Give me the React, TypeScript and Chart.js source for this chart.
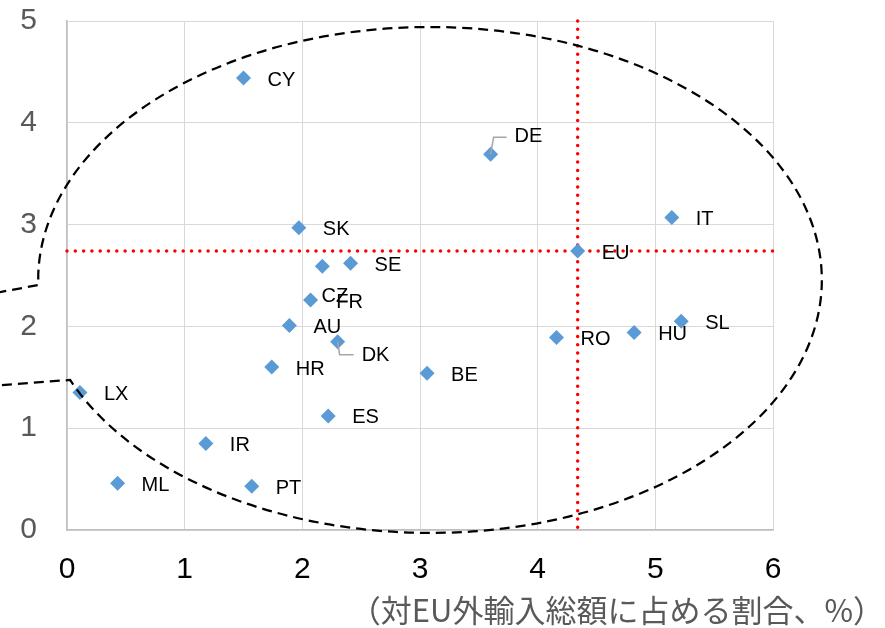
import React, { useEffect, useRef } from "react";
import { Chart, registerables } from "chart.js";

Chart.register(...registerables);

// Country codes and their coordinates
const countries = ["CY", "DE", "IT", "SK", "EU", "SE", "FR", "CZ", "AU", "DK", "HR", "BE", "RO", "HU", "SL", "LX", "IR", "ML", "PT", "ES"];
const xValues = [1.5, 3.6, 5.14, 1.97, 4.34, 2.41, 2.17, 2.07, 1.89, 2.3, 1.74, 3.06, 4.16, 4.82, 5.22, 0.11, 1.18, 0.43, 1.57, 2.22];
const yValues = [4.44, 3.69, 3.07, 2.97, 2.74, 2.62, 2.59, 2.26, 2.01, 1.85, 1.6, 1.54, 1.89, 1.94, 2.05, 1.35, 0.85, 0.46, 0.43, 1.12];

// EU average reference lines
const euAverageX = 4.34;
const euAverageY = 2.74;

const xTicks = [0, 1, 2, 3, 4, 5, 6];
const yTicks = [0, 1, 2, 3, 4, 5];
const xTitle = "（対EU外輸入総額に占める割合、%）";

// Label placement (pixel offsets from each marker)
const labelOffsets: Record<string, [number, number]> = {
  DE: [24, -18],
  CZ: [11, -3],
  FR: [14, 36],
  DK: [24, 14],
};
const defaultOffset: [number, number] = [24, 2];
const leaders: Record<string, [number, number][]> = {
  DE: [[3, -17], [16, -17]],
  DK: [[2, 13], [16, 13]],
};

// Highlight ellipse in data units
const ellipse = { cx: 3.085, cy: 2.456, rx: 3.33, ry: 2.485 };

const overlayPlugin = {
  id: "overlay",
  beforeDatasetsDraw(chart: any) {
    const { ctx, chartArea, scales } = chart;
    const px = scales.x.getPixelForValue(euAverageX);
    const py = scales.y.getPixelForValue(euAverageY);
    ctx.save();
    ctx.strokeStyle = "#FF0000";
    ctx.lineWidth = 3.5;
    ctx.lineCap = "round";
    ctx.setLineDash([0, 8.3]);
    ctx.beginPath();
    ctx.moveTo(px, chartArea.top);
    ctx.lineTo(px, chartArea.bottom + 2);
    ctx.stroke();
    ctx.beginPath();
    ctx.moveTo(chartArea.left, py);
    ctx.lineTo(chartArea.right, py);
    ctx.stroke();
    ctx.restore();
  },
  afterDatasetsDraw(chart: any) {
    const { ctx, scales } = chart;
    const xs = scales.x;
    const ys = scales.y;

    // dashed outline
    const cx = xs.getPixelForValue(ellipse.cx);
    const cy = ys.getPixelForValue(ellipse.cy);
    const rx = xs.getPixelForValue(ellipse.cx + ellipse.rx) - cx;
    const ry = ys.getPixelForValue(ellipse.cy - ellipse.ry) - cy;
    const leftX = xs.getPixelForValue(-0.6);
    const upperY = ys.getPixelForValue(2.33);
    const lowerY = ys.getPixelForValue(1.42);
    const startA = Math.PI - Math.asin(-5 / ry);
    const endA = Math.PI - Math.asin(100 / ry);
    ctx.save();
    ctx.strokeStyle = "#000000";
    ctx.lineWidth = 2.25;
    ctx.setLineDash([10, 6]);
    ctx.beginPath();
    ctx.moveTo(leftX, upperY);
    ctx.lineTo(cx - rx * Math.cos(Math.asin(5 / ry)), cy + 5);
    ctx.ellipse(cx, cy, rx, ry, 0, startA, endA + Math.PI * 2, false);
    ctx.lineTo(leftX, lowerY);
    ctx.stroke();
    ctx.restore();

    // leader lines and labels
    ctx.save();
    countries.forEach((name, i) => {
      const x = xs.getPixelForValue(xValues[i]);
      const y = ys.getPixelForValue(yValues[i]);
      const lead = leaders[name];
      if (lead) {
        ctx.strokeStyle = "#A6A6A6";
        ctx.lineWidth = 1.5;
        ctx.setLineDash([]);
        ctx.beginPath();
        ctx.moveTo(x, y);
        lead.forEach(([dx, dy]) => ctx.lineTo(x + dx, y + dy));
        ctx.stroke();
      }
    });
    ctx.fillStyle = "#000000";
    ctx.font = "20px 'Liberation Sans', Arial, sans-serif";
    ctx.textAlign = "left";
    ctx.textBaseline = "middle";
    countries.forEach((name, i) => {
      const x = xs.getPixelForValue(xValues[i]);
      const y = ys.getPixelForValue(yValues[i]);
      const [dx, dy] = labelOffsets[name] || defaultOffset;
      ctx.fillText(name, x + dx, y + dy);
    });

    // axis title
    ctx.fillStyle = "#595959";
    ctx.font = "31px 'Noto Sans CJK JP', sans-serif";
    ctx.textAlign = "right";
    ctx.textBaseline = "middle";
    ctx.fillText(xTitle, 884, 610);
    ctx.restore();
  },
};

export default function App() {
  const canvasRef = useRef<HTMLCanvasElement | null>(null);

  useEffect(() => {
    document.body.style.margin = "0";
    const canvas = canvasRef.current;
    if (!canvas) return;
    const chart = new Chart(canvas, {
      type: "scatter",
      data: {
        datasets: [
          {
            data: countries.map((_, i) => ({ x: xValues[i], y: yValues[i] })),
            pointStyle: "rectRot",
            pointRadius: 7.5,
            pointHoverRadius: 7.5,
            backgroundColor: "#5B9BD5",
            borderColor: "#5B9BD5",
            borderWidth: 0,
          },
        ],
      },
      options: {
        responsive: false,
        animation: false,
        layout: { padding: { top: 21, right: 112, bottom: 0, left: 0 } },
        plugins: {
          legend: { display: false },
          tooltip: { enabled: false },
        },
        scales: {
          x: {
            type: "linear",
            min: 0,
            max: 6,
            afterBuildTicks: (s: any) => {
              s.ticks = xTicks.map((v) => ({ value: v }));
            },
            afterFit: (s: any) => {
              s.height = 98;
              s.paddingLeft = 0;
              s.paddingRight = 0;
            },
            grid: { color: "#D9D9D9", lineWidth: 1, drawTicks: false },
            border: { color: "#BFBFBF", width: 1.5 },
            ticks: {
              padding: 22,
              color: "#000000",
              font: { family: "'Liberation Sans', Arial, sans-serif", size: 30 },
            },
          },
          y: {
            type: "linear",
            min: 0,
            max: 5,
            afterBuildTicks: (s: any) => {
              s.ticks = yTicks.map((v) => ({ value: v }));
            },
            afterFit: (s: any) => {
              s.width = 67;
              s.paddingTop = 0;
              s.paddingBottom = 0;
            },
            grid: { color: "#D9D9D9", lineWidth: 1, drawTicks: false },
            border: { color: "#BFBFBF", width: 1.5 },
            ticks: {
              padding: 30,
              color: "#595959",
              font: { family: "'Liberation Sans', Arial, sans-serif", size: 30 },
            },
          },
        },
      },
      plugins: [overlayPlugin],
    } as any);
    return () => chart.destroy();
  }, []);

  return <canvas ref={canvasRef} width={885} height={628} style={{ display: "block" }} />;
}
